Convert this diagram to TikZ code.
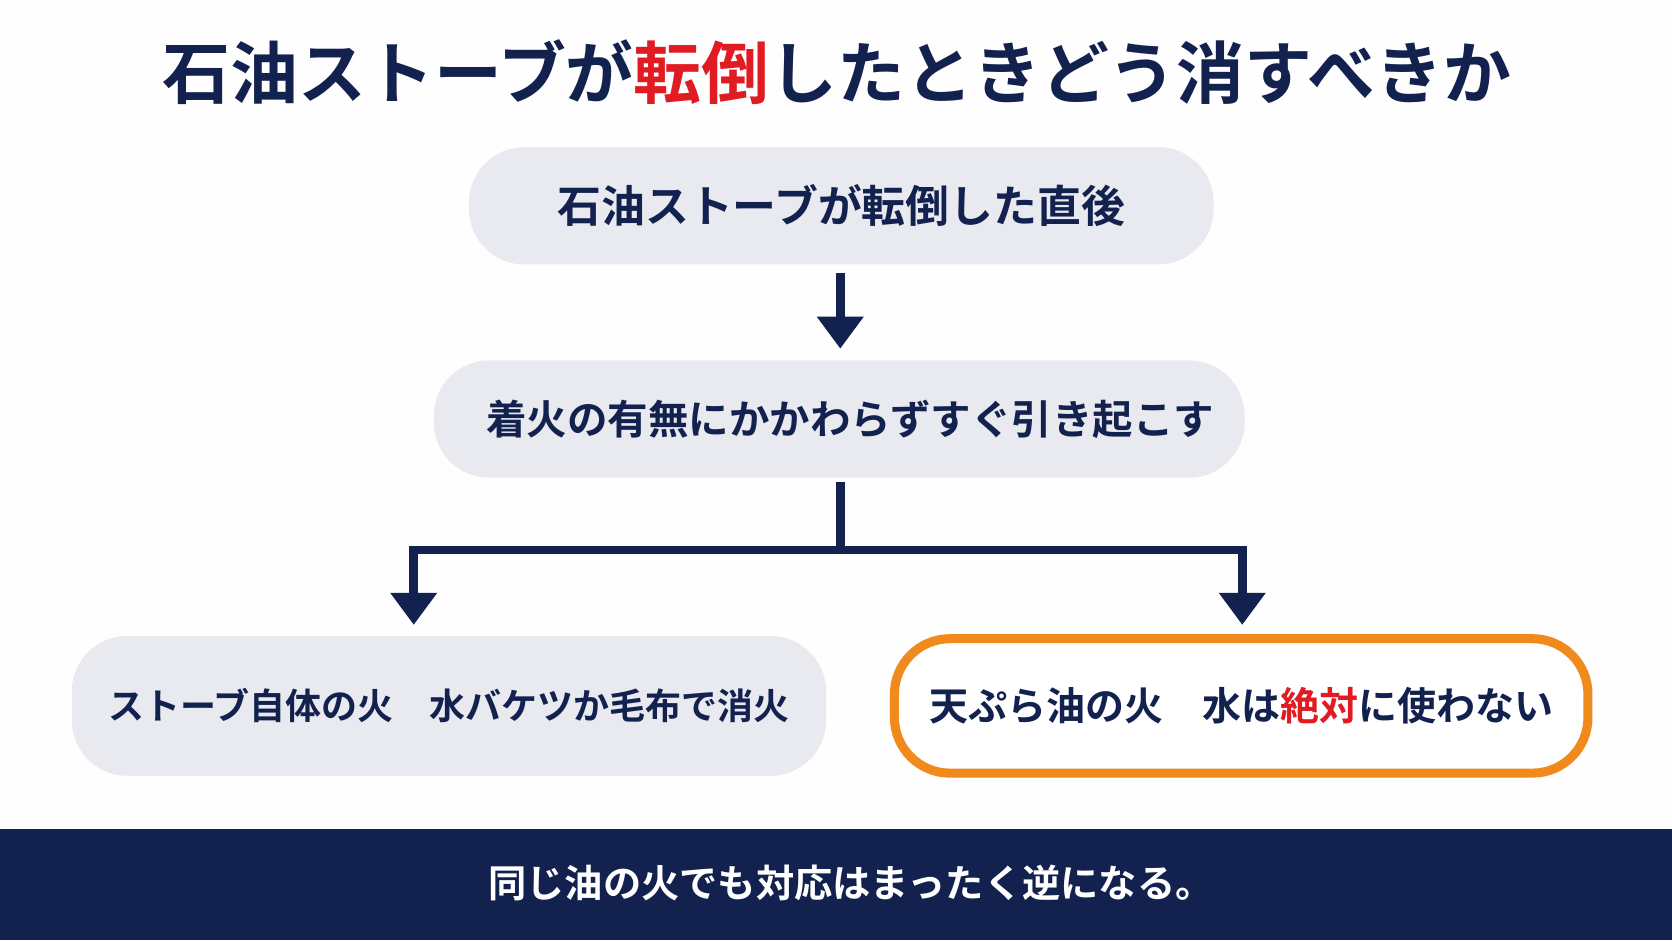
\documentclass[tikz,border=0pt]{standalone}
\usepackage{fontspec}
\setmainfont{Noto Sans CJK JP}[BoldFont={* Bold}]
\usetikzlibrary{positioning}
\usetikzlibrary{arrows.meta}
\definecolor{navy}{HTML}{13214F}
\definecolor{boxgray}{HTML}{E9EAEF}
\definecolor{firered}{HTML}{E01B22}
\definecolor{orangeline}{HTML}{F18A1C}
\tikzset{%
  flowarrow/.style = {-{Triangle[length=3mm,width=4.2mm]},line width=0.8mm,draw=navy},
  g/.style = {rectangle,rounded corners=5.2mm,fill=boxgray,font=\bfseries,text=navy},
  o/.style = {rectangle,rounded corners=5.2mm,fill=white,draw=orangeline,line width=0.85mm,font=\bfseries,text=navy}
}
\begin{document}
\begin{tikzpicture}[x=0.01cm,y=-0.01cm]
  \useasboundingbox (0,0) rectangle (1568,882);
  \fill[white!97!boxgray] (0,0) rectangle (1568,882);
  % title
  \node[font=\fontsize{18.1pt}{21pt}\bfseries,text=navy] (title) at (785,68)
    {石油ストーブが\textcolor{firered}{転倒}したときどう消すべきか};
  % flow boxes
  \node[g,minimum width=6.98cm,minimum height=1.1cm,font=\fontsize{11.7pt}{14pt}\bfseries] (fall) at (789,193)
    {石油ストーブが転倒した直後};
  \node[g,minimum width=7.6cm,minimum height=1.1cm,font=\fontsize{10.8pt}{14pt}\bfseries] (raise) at (787,393)
    {\hspace*{0.2cm}着火の有無にかかわらずすぐ引き起こす};
  \node[g,minimum width=7.07cm,minimum height=1.31cm,font=\fontsize{9.6pt}{12pt}\bfseries] (stove) at (421,662)
    {ストーブ自体の火\quad 水バケツか毛布で消火};
  \node[o,minimum width=6.5cm,minimum height=1.26cm,font=\fontsize{10.4pt}{12pt}\bfseries] (oil) at (1164,662)
    {天ぷら油の火\quad 水は\textcolor{firered}{絶対}に使わない};
  % connectors
  \coordinate (a1) at (788,256);
  \coordinate (a2) at (788,327);
  \coordinate (top) at (788,452);
  \coordinate (split) at (788,516);
  \coordinate (left) at (388,586);
  \coordinate (right) at (1165,586);
  \draw[flowarrow] (a1) -- (a2);
  \draw[line width=0.8mm,navy] (top) -- (split);
  \draw[flowarrow] (split) -| (left);
  \draw[flowarrow] (split) -| (right);
  % bottom band
  \fill[navy] (0,777) rectangle (1568,882);
  \node[font=\fontsize{10.2pt}{12pt}\bfseries,text=white] (note) at (798,828)
    {同じ油の火でも対応はまったく逆になる。};
\end{tikzpicture}
\end{document}
